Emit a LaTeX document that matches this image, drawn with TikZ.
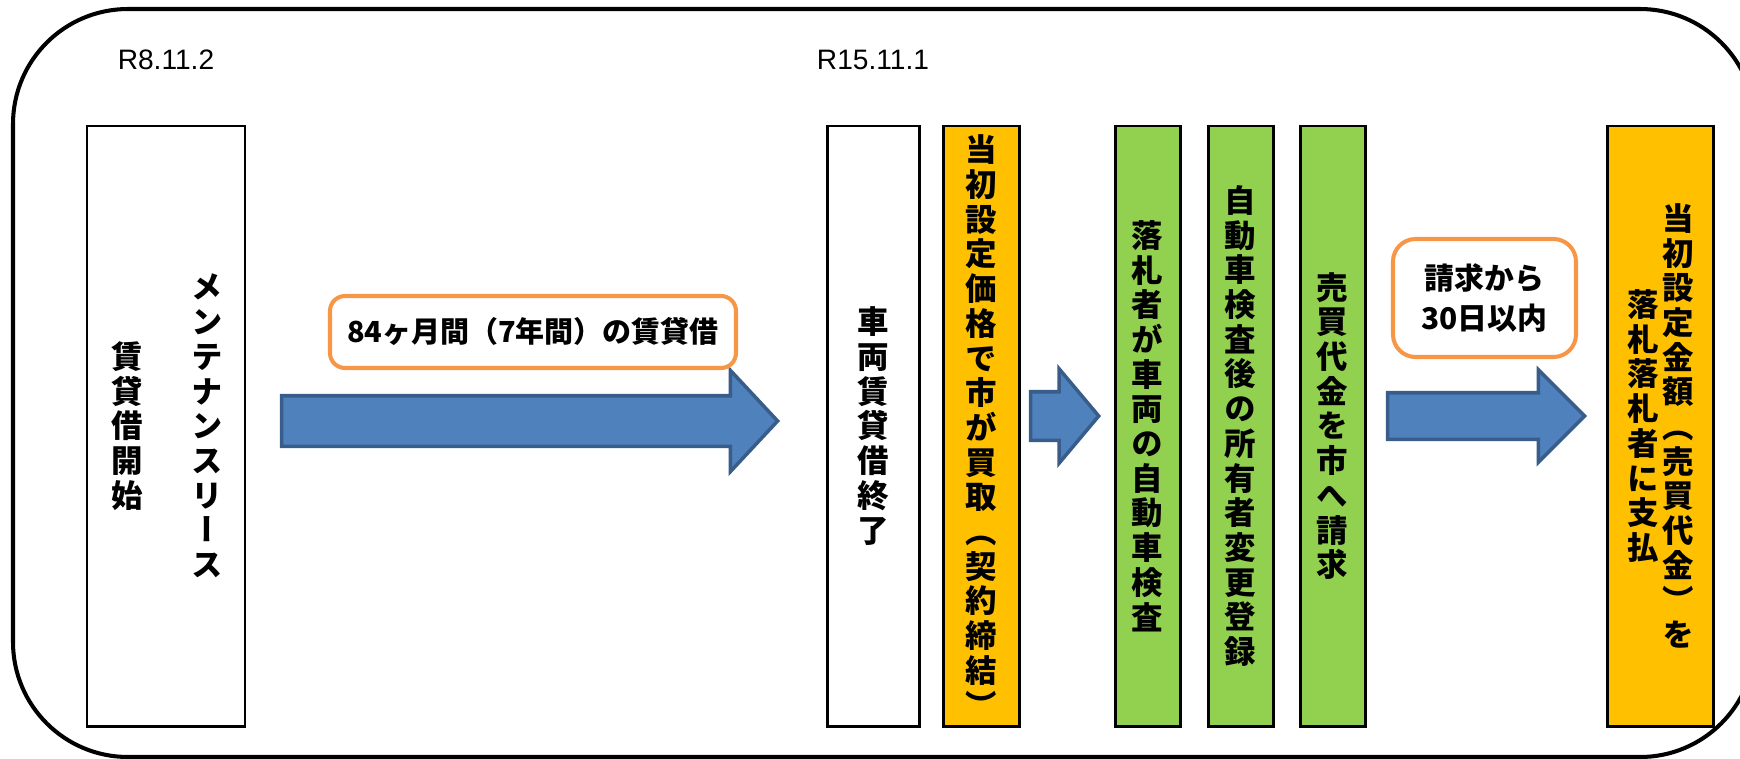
\documentclass[tikz,border=0pt]{standalone}
\usepackage{fontspec}
\setmainfont{Liberation Sans}
\newfontfamily\jp{Noto Sans CJK JP}
\newfontfamily\jpv{Noto Sans CJK JP}[RawFeature=+vert]
\usetikzlibrary{positioning,shapes.arrows}

\definecolor{stepgreen}{HTML}{92D050}
\definecolor{steporange}{HTML}{FFC000}
\definecolor{noteorange}{HTML}{F79646}
\definecolor{arrowfill}{HTML}{4F81BD}
\definecolor{arrowline}{HTML}{385D8A}

\newcommand\vertfont{\jpv\bfseries\fontsize{17.9pt}{19.75pt}\selectfont}

\begin{document}
\begin{tikzpicture}[
    stepbox/.style={rectangle, draw, line width=1.7pt, minimum height=12cm, inner sep=0pt,
                    align=center, font=\vertfont},
    vcol/.style={inner sep=0pt, align=center, font=\vertfont},
    notebox/.style={rectangle, draw=noteorange, line width=2.3pt, fill=white, rounded corners=0.3cm,
                    align=center, inner sep=0pt, font=\jp\bfseries\fontsize{16.5pt}{22.8pt}\selectfont},
    blockarr/.style={single arrow, draw=arrowline, fill=arrowfill, line width=2pt,
                     inner xsep=0pt, anchor=tip},
    datelbl/.style={font=\fontsize{16pt}{19pt}\selectfont},
  ]

  \useasboundingbox (0,0) rectangle (34.8,-15.18);
  \clip (0,0) rectangle (34.8,-15.18);

  % Outer frame
  \draw[line width=2.3pt, rounded corners=2.3cm] (0.26,-0.18) rectangle (35.1,-15.14);

  % Lease start
  \node[stepbox, minimum width=3.16cm] (lease) at (3.32,-8.52) {};
  \node[vcol] (leasename) at ([xshift=0.82cm]lease.center) {メ\\ン\\テ\\ナ\\ン\\ス\\リ\\ー\\ス};
  \node[vcol] (leasestart) at ([xshift=-0.78cm]lease.center) {賃\\貸\\借\\開\\始};
  \node[datelbl] (startdate) at ([yshift=1.3cm]lease.north) {R8.11.2};

  % Lease end and buy-back
  \node[stepbox, minimum width=1.84cm] (leaseend) at (17.46,-8.52) {車\\両\\賃\\貸\\借\\終\\了};
  \node[datelbl] (enddate) at ([yshift=1.3cm]leaseend.north) {R15.11.1};
  \node[stepbox, fill=steporange, minimum width=1.52cm] (buyback) at (19.62,-8.52)
    {当\\初\\設\\定\\価\\格\\で\\市\\が\\買\\取\\（\\契\\約\\締\\結\\）};

  % Steps of the winning bidder
  \node[stepbox, fill=stepgreen, minimum width=1.3cm] (inspect) at (22.95,-8.52)
    {落\\札\\者\\が\\車\\両\\の\\自\\動\\車\\検\\査};
  \node[stepbox, fill=stepgreen, minimum width=1.3cm] (register) at (24.81,-8.52)
    {自\\動\\車\\検\\査\\後\\の\\所\\有\\者\\変\\更\\登\\録};
  \node[stepbox, fill=stepgreen, minimum width=1.3cm] (claim) at (26.65,-8.52)
    {売\\買\\代\\金\\を\\市\\へ\\請\\求};

  % Payment
  \node[stepbox, fill=steporange, minimum width=2.12cm] (payment) at (33.2,-8.52) {};
  \node[vcol] (payright) at ([xshift=0.36cm]payment.center) {当\\初\\設\\定\\金\\額\\（\\売\\買\\代\\金\\）\\を};
  \node[vcol] (payleft) at ([xshift=-0.34cm]payment.center) {落\\札\\落\\札\\者\\に\\支\\払};

  % Arrows
  \node[blockarr, minimum height=9.92cm, inner ysep=0.47cm, single arrow head extend=0.51cm,
        single arrow tip angle=94] (termarrow) at (15.6,-8.42) {};
  \node[blockarr, minimum height=1.36cm, inner ysep=0.45cm, single arrow head extend=0.46cm,
        single arrow tip angle=100] (nextarrow) at (22.02,-8.32) {};
  \node[blockarr, minimum height=3.94cm, inner ysep=0.43cm, single arrow head extend=0.46cm,
        single arrow tip angle=90] (payarrow) at (31.74,-8.32) {};

  % Notes
  \node[notebox, minimum width=8.12cm, minimum height=1.44cm] (term) at (10.66,-6.64)
    {84ヶ月間（7年間）の賃貸借};
  \node[notebox, minimum width=3.66cm, minimum height=2.36cm, rounded corners=0.45cm,
        font=\jp\bfseries\fontsize{17pt}{22.8pt}\selectfont] (deadline) at (29.69,-5.96)
    {請求から\\30日以内};

\end{tikzpicture}
\end{document}
